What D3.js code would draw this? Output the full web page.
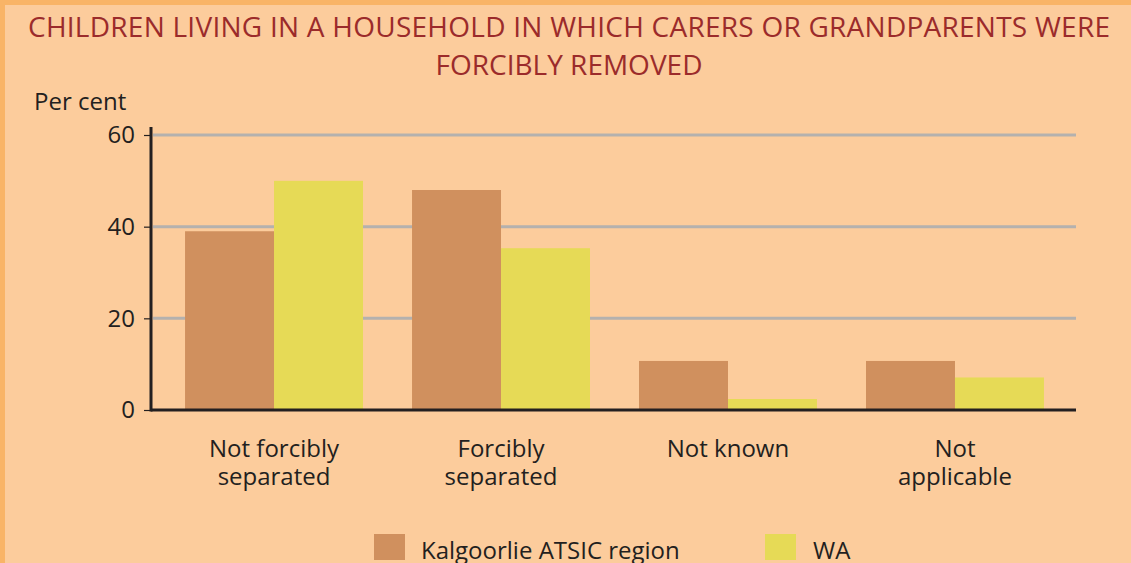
<!DOCTYPE html>
<html>
<head>
<meta charset="utf-8">
<script src="https://cdn.jsdelivr.net/npm/d3@7"></script>
<style>
  html, body { margin: 0; padding: 0; background: #fccc9c; }
  svg { display: block; }
</style>
</head>
<body>
<div id="chart"></div>
<script>
// Data
var categories = [["Not forcibly", "separated"], ["Forcibly", "separated"], ["Not known"], ["Not", "applicable"]];
var seriesNames = ["Kalgoorlie ATSIC region", "WA"];
var kalgoorlie = [39, 48, 10.7, 10.7];
var wa = [50, 35.3, 2.4, 7.1];
var yTicks = [0, 20, 40, 60];

var width = 1131, height = 563;
var colors = ["#d0905e", "#e6da56"];
var font = "'Open Sans', 'Noto Sans', sans-serif";

var svg = d3.select("#chart").append("svg")
  .attr("width", width)
  .attr("height", height);

// Frame: orange strip top and left
svg.append("rect").attr("width", width).attr("height", height).attr("fill", "#f9b467");
svg.append("rect").attr("x", 5).attr("y", 5).attr("width", width - 5).attr("height", height - 5).attr("fill", "#fccc9c");

// Title
var title = svg.append("text")
  .attr("text-anchor", "middle")
  .attr("fill", "#9b2b2b")
  .attr("font-family", font)
  .attr("font-size", 28);
title.append("tspan").attr("x", 569).attr("y", 37)
  .attr("textLength", 1082).attr("lengthAdjust", "spacing")
  .text("CHILDREN LIVING IN A HOUSEHOLD IN WHICH CARERS OR GRANDPARENTS WERE");
title.append("tspan").attr("x", 569).attr("y", 75)
  .text("FORCIBLY REMOVED");

// Scales
var x0 = d3.scaleBand()
  .domain(d3.range(categories.length))
  .range([151, 1078])
  .paddingInner(0.216)
  .paddingOuter(0.15);
var x1 = d3.scaleBand()
  .domain([0, 1])
  .range([0, x0.bandwidth()]);
var y = d3.scaleLinear().domain([0, 60]).range([410, 135]);

// Gridlines
svg.append("g").selectAll("line")
  .data(yTicks.filter(function(d) { return d > 0; }))
  .join("line")
  .attr("x1", 153).attr("x2", 1076)
  .attr("y1", function(d) { return y(d); })
  .attr("y2", function(d) { return y(d); })
  .attr("stroke", "#b4b1ae")
  .attr("stroke-width", 3);

// Bars
var groups = svg.append("g").selectAll("g")
  .data(categories.map(function(c, i) { return [kalgoorlie[i], wa[i]]; }))
  .join("g")
  .attr("transform", function(d, i) { return "translate(" + x0(i) + ",0)"; });
groups.selectAll("rect")
  .data(function(d) { return d; })
  .join("rect")
  .attr("x", function(d, j) { return x1(j); })
  .attr("width", x1.bandwidth())
  .attr("y", function(d) { return y(d); })
  .attr("height", function(d) { return y(0) - y(d); })
  .attr("fill", function(d, j) { return colors[j]; });

// Y axis
var yAxis = d3.axisLeft(y).tickValues(yTicks).tickSize(7).tickPadding(9);
var yg = svg.append("g").attr("transform", "translate(151,0)").call(yAxis);
yg.select(".domain").remove();
yg.selectAll(".tick line").attr("stroke", "#231f20").attr("stroke-width", 1.2);
yg.selectAll(".tick text")
  .attr("font-family", font).attr("font-size", 24).attr("fill", "#231f20");
svg.append("line")
  .attr("x1", 151).attr("x2", 151).attr("y1", 127).attr("y2", 411.5)
  .attr("stroke", "#231f20").attr("stroke-width", 3);

// Baseline
svg.append("line")
  .attr("x1", 151).attr("x2", 1076).attr("y1", y(0)).attr("y2", y(0))
  .attr("stroke", "#231f20").attr("stroke-width", 3);

svg.append("text")
  .attr("x", 34).attr("y", 110)
  .attr("font-family", font).attr("font-size", 24).attr("fill", "#231f20")
  .text("Per cent");

// Category labels
var catText = svg.append("g").selectAll("text")
  .data(categories)
  .join("text")
  .attr("text-anchor", "middle")
  .attr("font-family", font).attr("font-size", 24).attr("fill", "#231f20");
catText.selectAll("tspan")
  .data(function(d, i) { return d.map(function(s) { return { s: s, i: i }; }); })
  .join("tspan")
  .attr("x", function(d) { return x0(d.i) + x0.bandwidth() / 2; })
  .attr("y", function(d, k) { return 457 + k * 28; })
  .text(function(d) { return d.s; });

// Legend
var legendX = [374, 765];
var legend = svg.append("g").selectAll("g")
  .data(seriesNames)
  .join("g")
  .attr("transform", function(d, i) { return "translate(" + legendX[i] + ",534)"; });
legend.append("rect")
  .attr("width", 31).attr("height", 26)
  .attr("fill", function(d, i) { return colors[i]; });
legend.append("text")
  .attr("x", function(d, i) { return i === 0 ? 47 : 48; })
  .attr("y", 25)
  .attr("font-family", font).attr("font-size", 24).attr("fill", "#231f20")
  .text(function(d) { return d; });
</script>
</body>
</html>
